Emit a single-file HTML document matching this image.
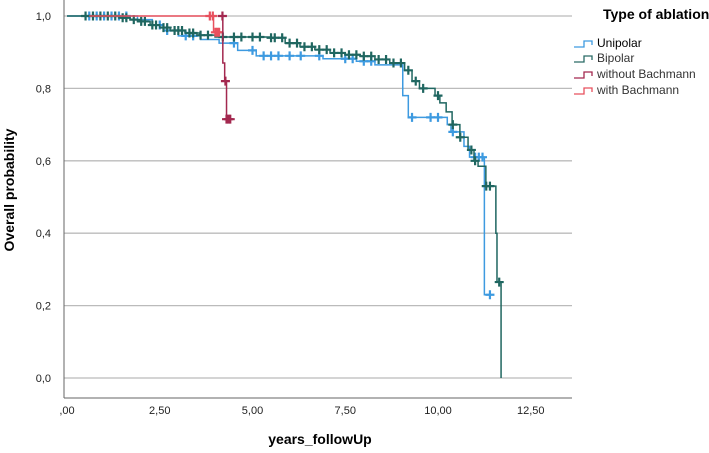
<!DOCTYPE html>
<html><head><meta charset="utf-8"><style>
body{margin:0;background:#fff;font-family:"Liberation Sans",Arial,sans-serif}
svg{display:block}
</style></head><body>
<svg id="chart" width="709" height="453" xmlns="http://www.w3.org/2000/svg">
<g id="grid"></g>
<g id="axes"></g>
<g id="series"></g>
<text x="0" y="0" transform="translate(14,190) rotate(-90)" text-anchor="middle" font-size="14" font-weight="bold">Overall probability</text>
<text x="320" y="444" text-anchor="middle" font-size="14" font-weight="bold">years_followUp</text>
<g>
<text x="603" y="19" font-size="14" font-weight="bold">Type of ablation</text>
<g><path d="M574,47h10v-6h8v4" fill="none" stroke="#3d9ae0" stroke-width="1.3"/><text x="597" y="47" font-size="12">Unipolar</text></g>
<g><path d="M574,62h10v-6h8v4" fill="none" stroke="#2a6b66" stroke-width="1.3"/><text x="597" y="62" font-size="12" fill="#333">Bipolar</text></g>
<g><path d="M574,78h10v-6h8v4" fill="none" stroke="#a3284f" stroke-width="1.3"/><text x="597" y="78" font-size="12" fill="#333">without Bachmann</text></g>
<g><path d="M574,94h10v-6h8v4" fill="none" stroke="#e8505e" stroke-width="1.3"/><text x="597" y="94" font-size="12" fill="#333">with Bachmann</text></g>
</g>
</svg>
<script>
const xTicks=[0,2.5,5,7.5,10,12.5];
const xTickLabels=[",00","2,50","5,00","7,50","10,00","12,50"];
const yTicks=[0,0.2,0.4,0.6,0.8,1.0];
const yTickLabels=["0,0","0,2","0,4","0,6","0,8","1,0"];
const uniT=[0,1.9,2.3,2.6,3.0,3.6,4.1,4.6,5.1,6.9,7.8,8.3,9.05,9.2,10.25,10.35,10.7,10.85,11.25];
const uniS=[1.0,0.99,0.975,0.96,0.945,0.935,0.925,0.905,0.89,0.882,0.875,0.865,0.78,0.72,0.70,0.68,0.64,0.61,0.23];
const uniEnd=11.5;
const uniCens=[0.6,0.8,1.0,1.2,1.4,1.6,2.5,2.7,3.2,3.4,4.5,5.0,5.3,5.5,5.7,6.0,6.3,6.8,7.5,7.7,8.0,8.2,9.3,9.8,10.0,10.4,11.0,11.1,11.2,11.4];
const biT=[0,1.43,1.7,1.97,2.24,2.5,2.78,3.18,3.58,3.99,5.47,5.88,6.28,6.68,7.09,7.49,7.9,8.3,8.7,9.1,9.3,9.5,9.92,10.05,10.22,10.38,10.59,10.81,10.97,11.08,11.29,11.56,11.59,11.7];
const biS=[1.0,0.995,0.99,0.985,0.975,0.968,0.96,0.953,0.947,0.942,0.94,0.925,0.915,0.907,0.898,0.893,0.889,0.88,0.87,0.85,0.82,0.80,0.78,0.76,0.735,0.70,0.665,0.63,0.60,0.585,0.53,0.40,0.265,0];
const biEnd=11.7;
const biCens=[0.5,0.7,0.9,1.1,1.3,1.5,1.6,1.8,2.0,2.1,2.3,2.4,2.6,2.7,2.9,3.0,3.1,3.3,3.4,3.6,3.8,4.2,4.5,4.7,5.0,5.2,5.5,5.6,5.8,6.0,6.2,6.4,6.6,6.8,7.0,7.2,7.4,7.6,7.8,8.0,8.2,8.4,8.6,8.8,9.0,9.2,9.4,9.6,10.0,10.4,10.6,10.9,11.0,11.3,11.4,11.65];
const woT=[4.18,4.2,4.25,4.3];
const woS=[1.0,0.87,0.82,0.715];
const woEnd=4.42;
const woCens=[4.19,4.27,4.3,4.35,4.4];
const wiT=[0.6,3.95];
const wiS=[1.0,0.955];
const wiEnd=4.15;
const wiCens=[3.85,3.93,4.0,4.05,4.1];

const NS="http://www.w3.org/2000/svg";
const X0=64,X1=572,YTOP=16,YBOT=378,AXB=398;
function xs(t){return 67+t*37.1;}
function ys(s){return YBOT-s*(YBOT-YTOP);}
function mk(tag,attrs,parent){const e=document.createElementNS(NS,tag);for(const k in attrs)e.setAttribute(k,attrs[k]);parent.appendChild(e);return e;}
const grid=document.getElementById('grid'),axes=document.getElementById('axes'),ser=document.getElementById('series');
yTicks.forEach((v,i)=>{
 const l=mk('line',{x1:X0,x2:X1,y1:ys(v),y2:ys(v),stroke:'#bbbbbb','stroke-width':1.3},grid);
 
 
 const t=mk('text',{x:51,y:ys(v)+4,'text-anchor':'end','font-size':11,fill:'#222'},axes);
 t.textContent=yTickLabels[i];
 
 
});
const ya=mk('line',{x1:X0,x2:X0,y1:0,y2:AXB,stroke:'#666','stroke-width':1},axes);


const xa=mk('line',{x1:X0,x2:X1,y1:AXB,y2:AXB,stroke:'#666','stroke-width':1},axes);


xTicks.forEach((v,i)=>{
 const t=mk('text',{x:xs(v),y:414,'text-anchor':'middle','font-size':11,fill:'#222'},axes);
 t.textContent=xTickLabels[i];
 
 
});
function survAt(T,S,t){let s=S[0];for(let i=0;i<T.length;i++){if(T[i]<=t)s=S[i];}return s;}
function draw(T,S,end,cens,color,name){
 let d='M'+xs(T[0])+','+ys(S[0]);
 for(let i=1;i<T.length;i++){d+='H'+xs(T[i])+'V'+ys(S[i]);}
 d+='H'+xs(end);
 const p=mk('path',{d:d,fill:'none',stroke:color,'stroke-width':1.5},ser);
 
 
 cens.forEach(c=>{
  const x=xs(c),y=ys(survAt(T,S,c));
  const m=mk('path',{d:`M${x-4.5},${y}h9M${x},${y-4.5}v9`,stroke:color,'stroke-width':2.2},ser);
  
  
 });
}
draw(uniT,uniS,uniEnd,uniCens,'#3d9ae0','unipolar');
draw(biT,biS,biEnd,biCens,'#1f6660','bipolar');
draw(wiT,wiS,wiEnd,wiCens,'#e8505e','with-bachmann');
draw(woT,woS,woEnd,woCens,'#a3284f','without-bachmann');
</script>
</body></html>
